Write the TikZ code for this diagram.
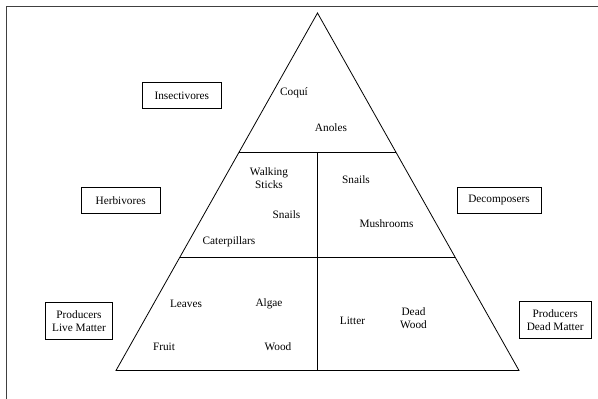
\documentclass[tikz,border=0pt]{standalone}
\usepackage{fontspec}
\setmainfont{Liberation Serif}
\usetikzlibrary{calc}
\begin{document}
\begin{tikzpicture}[x=1pt,y=-1pt,
  lbl/.style={font=\fontsize{11.3}{13.3}\selectfont, inner sep=0pt, align=center},
  boxlbl/.style={lbl, draw, line width=0.8pt, minimum height=26pt},
  edge/.style={line width=0.8pt}]
\useasboundingbox (0,0) rectangle (598,399);
% frame (clipped on right and bottom)
\draw[line width=1.7pt, black!75] (6.5,400) -- (6.5,6.5) -- (600,6.5);
% pyramid
\coordinate (apex) at (317.5,13);
\coordinate (bl) at (116,370.5);
\coordinate (br) at (519,370.5);
\draw[edge] (apex) -- (bl) -- (br) -- cycle;
\coordinate (l1) at ($(apex)!0.391!(bl)$);
\coordinate (r1) at ($(apex)!0.391!(br)$);
\coordinate (l2) at ($(apex)!0.684!(bl)$);
\coordinate (r2) at ($(apex)!0.684!(br)$);
\draw[edge] (l1) -- (r1);
\draw[edge] (l2) -- (r2);
\coordinate (m1) at (317.5,152.7);
\coordinate (m3) at (317.5,370.5);
\draw[edge] (m1) -- (m3);
% side boxes
\node[boxlbl, minimum width=79pt] (insect) at (181.8,95.5) {Insectivores};
\node[boxlbl, minimum width=79pt] (herb) at (120.7,200.5) {Herbivores};
\node[boxlbl, minimum width=84pt] (decomp) at (499,200.3) {Decomposers};
\node[boxlbl, minimum width=66.5pt, minimum height=36.5pt] (plive) at (79,320.8) {Producers\\Live Matter};
\node[boxlbl, minimum width=72.5pt, minimum height=37pt] (pdead) at (555.2,320.3) {Producers\\Dead Matter};
% labels inside pyramid
\node[lbl] (coqui) at (294,93) {Coquí};
\node[lbl] (anoles) at (331,128) {Anoles};
\node[lbl] (walk) at (269,178) {Walking\\Sticks};
\node[lbl] (snailsl) at (286.5,215) {Snails};
\node[lbl] (cater) at (229,241.7) {Caterpillars};
\node[lbl] (snailsr) at (356,180) {Snails};
\node[lbl] (mush) at (386.5,224) {Mushrooms};
\node[lbl] (leaves) at (186,304) {Leaves};
\node[lbl] (algae) at (269,304) {Algae};
\node[lbl] (fruit) at (164,347) {Fruit};
\node[lbl] (wood) at (278,347) {Wood};
\node[lbl] (litter) at (352.5,320.7) {Litter};
\node[lbl] (deadwood) at (413.5,318.3) {Dead\\Wood};
\end{tikzpicture}
\end{document}
